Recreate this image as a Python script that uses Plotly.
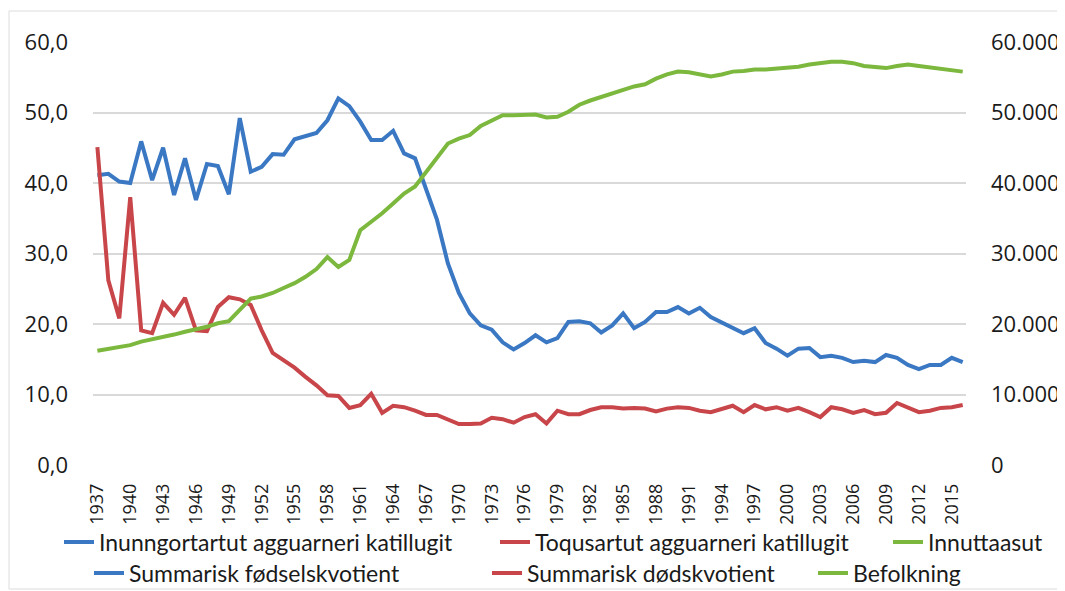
import plotly.graph_objects as go

years = list(range(1937, 2017))

birth_rate = [41.1, 41.3, 40.2, 40.0, 45.9, 40.4, 45.0, 38.3, 43.5, 37.6,
              42.7, 42.4, 38.4, 49.2, 41.6, 42.3, 44.1, 44.0, 46.2, 46.7,
              47.1, 48.9, 52.0, 50.9, 48.7, 46.1, 46.1, 47.4, 44.2, 43.5,
              39.0, 34.8, 28.6, 24.4, 21.5, 19.8, 19.2, 17.4, 16.4, 17.3,
              18.4, 17.4, 18.0, 20.3, 20.4, 20.1, 18.8, 19.8, 21.5, 19.4,
              20.3, 21.7, 21.7, 22.4, 21.5, 22.3, 21.0, 20.2, 19.4, 18.7,
              19.4, 17.3, 16.5, 15.5, 16.5, 16.6, 15.3, 15.5, 15.2, 14.6,
              14.8, 14.6, 15.6, 15.2, 14.2, 13.6, 14.2, 14.2, 15.2, 14.6]

death_rate = [45.1, 26.2, 20.8, 38.0, 19.1, 18.7, 23.0, 21.3, 23.7, 19.1,
              19.0, 22.4, 23.8, 23.5, 22.7, 19.1, 15.9, 14.9, 13.8, 12.5,
              11.3, 9.9, 9.8, 8.1, 8.5, 10.1, 7.4, 8.4, 8.2, 7.7,
              7.1, 7.1, 6.4, 5.8, 5.8, 5.9, 6.7, 6.5, 6.0, 6.8,
              7.2, 5.9, 7.7, 7.2, 7.2, 7.8, 8.2, 8.2, 8.0, 8.1,
              8.0, 7.6, 8.0, 8.2, 8.1, 7.7, 7.5, 7.9, 8.4, 7.5,
              8.5, 7.9, 8.2, 7.7, 8.1, 7.5, 6.8, 8.2, 7.9, 7.4,
              7.8, 7.2, 7.4, 8.8, 8.2, 7.5, 7.7, 8.1, 8.2, 8.5]

population = [16200, 16500, 16800, 17000, 17500, 17800, 18200, 18500, 18900, 19200,
              19600, 20100, 20400, 22000, 23600, 23900, 24400, 25100, 25800, 26700,
              27800, 29500, 28100, 29100, 33300, 34500, 35700, 37100, 38500, 39500,
              41600, 43700, 45600, 46300, 46800, 48100, 48900, 49600, 49600, 49700,
              49700, 49300, 49400, 50100, 51100, 51700, 52200, 52700, 53200, 53700,
              54000, 54800, 55400, 55800, 55700, 55400, 55100, 55400, 55800, 55900,
              56100, 56100, 56200, 56300, 56500, 56800, 57000, 57200, 57200, 57000,
              56600, 56400, 56300, 56600, 56800, 56600, 56400, 56100, 55900, 55800]

names_kl = ["Inunngortartut agguarneri katillugit",
            "Toqusartut agguarneri katillugit",
            "Innuttaasut"]
names_da = ["Summarisk fødselskvotient",
            "Summarisk dødskvotient",
            "Befolkning"]

tick_years = list(range(1937, 2016, 3))

colors = ["#3b78c3", "#c8464a", "#7cb83e"]
lw = 4

# page offset from the browser's default body margin
OFF = 8
FIG_W, FIG_H = 1065 - OFF, 591 - OFF

# legend text start positions (page px) and row centres (page px)
leg_text_x_row1 = [100, 536, 929]
leg_text_x_row2 = [130, 528, 854]
row_y = [542, 573]

fig = go.Figure()
series = [(birth_rate, "y"), (death_rate, "y"), (population, "y2")]
for i, ((vals, ax), nm, c) in enumerate(zip(series, names_kl, colors)):
    fig.add_trace(go.Scatter(x=years, y=vals, mode="lines", name=nm,
                             line=dict(color=c, width=lw), yaxis=ax,
                             legend="legend" if i == 0 else f"legend{i + 1}"))
# Danish legend row (legend-only entries for the same three series)
for i, (nm, c) in enumerate(zip(names_da, colors)):
    fig.add_trace(go.Scatter(x=[None], y=[None], mode="lines", name=nm,
                             line=dict(color=c, width=lw), legend=f"legend{i + 4}"))

tick_font = dict(family="Open Sans, sans-serif", size=22, color="#1a1a1a")
leg_font = dict(family="Lato, sans-serif", size=23, color="#1a1a1a")

legends = {}
allx = leg_text_x_row1 + leg_text_x_row2
ally = [row_y[0]] * 3 + [row_y[1]] * 3
for k, (tx, ty) in enumerate(zip(allx, ally)):
    key = "legend" if k == 0 else f"legend{k + 1}"
    legends[key] = dict(orientation="h", xref="container", yref="container",
                        x=(tx - 41 - OFF) / FIG_W, xanchor="left",
                        y=1 - (ty - OFF) / FIG_H, yanchor="middle",
                        font=leg_font, itemwidth=30,
                        bgcolor="rgba(0,0,0,0)", borderwidth=0)

plot_l, plot_r, plot_t, plot_b = 93, 966, 42, 465

fig.update_layout(
    width=FIG_W, height=FIG_H,
    margin=dict(l=plot_l - OFF, r=1065 - plot_r, t=plot_t - OFF, b=591 - plot_b,
                autoexpand=False),
    paper_bgcolor="white", plot_bgcolor="white",
    separators=",.",
    xaxis=dict(range=[1936.6, 2016.3], tickvals=tick_years,
               ticktext=[str(y) for y in tick_years], tickangle=-90,
               showgrid=False, zeroline=False, showline=False, automargin=False,
               ticks="", ticklabelstandoff=14,
               tickfont=dict(family="Open Sans, sans-serif", size=18, color="#1a1a1a")),
    yaxis=dict(range=[0, 60], tickvals=[0, 10, 20, 30, 40, 50, 60],
               tickformat=".1f", showgrid=True, gridcolor="#d9d9d9", gridwidth=1.5,
               zeroline=False, showline=False, ticks="", ticklabelstandoff=24,
               automargin=False, tickfont=tick_font),
    yaxis2=dict(range=[0, 60000], overlaying="y", side="right",
                tickvals=[0, 10000, 20000, 30000, 40000, 50000, 60000],
                tickformat=",d", showgrid=False, zeroline=False, showline=False,
                ticks="", ticklabelstandoff=24, automargin=False, tickfont=tick_font),
    showlegend=True,
    shapes=[dict(type="rect", xref="paper", yref="paper",
                 x0=(9 - plot_l) / (plot_r - plot_l), x1=(1075 - plot_l) / (plot_r - plot_l),
                 y0=(plot_b - 589) / (plot_b - plot_t), y1=(plot_b - 11) / (plot_b - plot_t),
                 line=dict(color="#dcdcdc", width=1), layer="below")],
    **legends,
)

fig.write_html("out.html")
